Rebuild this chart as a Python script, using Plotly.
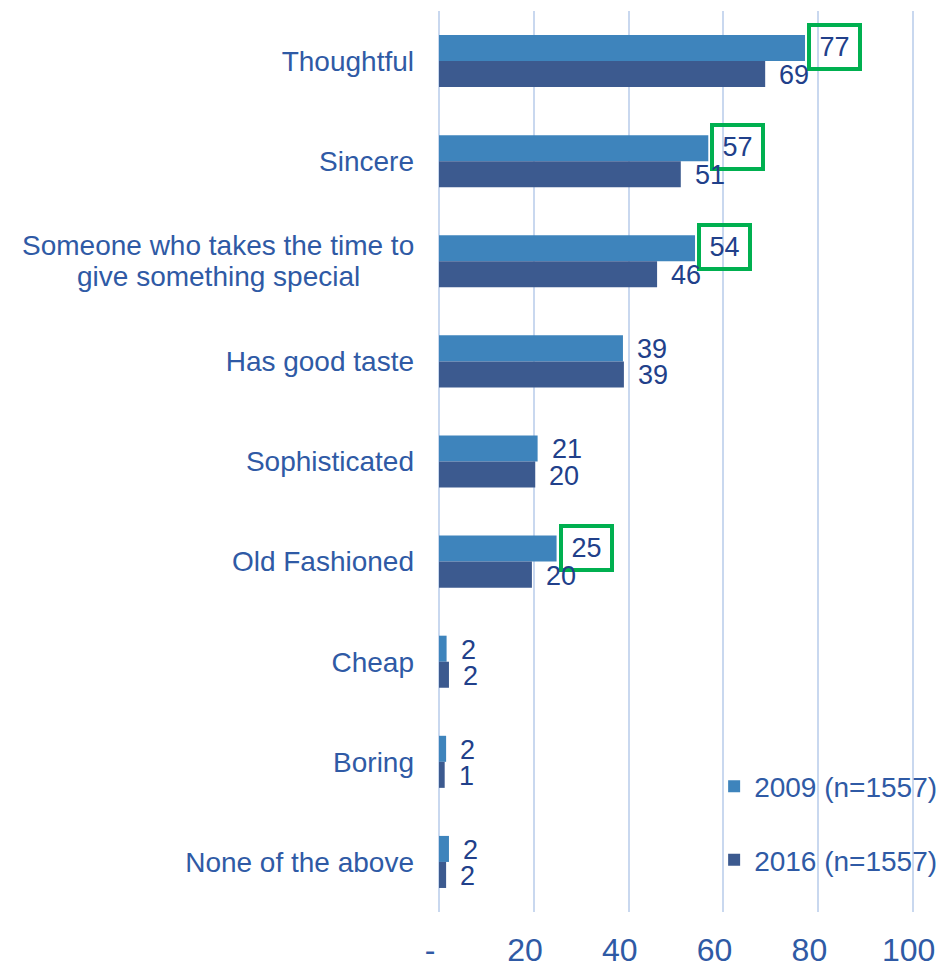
import plotly.graph_objects as go

categories = [
    "Thoughtful",
    "Sincere",
    "Someone who takes the time to<br>give something special",
    "Has good taste",
    "Sophisticated",
    "Old Fashioned",
    "Cheap",
    "Boring",
    "None of the above",
]
values_2009 = [77.2, 56.8, 54.0, 38.8, 20.8, 24.8, 1.6, 1.5, 2.1]
values_2016 = [68.8, 51.0, 46.0, 39.0, 20.3, 19.6, 2.1, 1.2, 1.5]
highlight_2009 = [True, True, True, False, False, True, False, False, False]
series_names = ["2009 (n=1557)", "2016 (n=1557)"]
x_tickvals = [0, 20, 40, 60, 80, 100]
x_ticktext = ["-", "20", "40", "60", "80", "100"]

C2009 = "#3E84BC"
C2016 = "#3C5A8F"
TXT = "#2F5AA5"
LBL = "#21408A"
GREEN = "#00B050"
GRID = "#C9D8EF"
FONT = "Liberation Sans, Arial, sans-serif"
BARGAP = 0.48
half = (1 - BARGAP) / 4
XMAX = 100.4

fig = go.Figure()
for name, vals, col, grp in [(series_names[0], values_2009, C2009, "a"),
                              (series_names[1], values_2016, C2016, "b")]:
    fig.add_trace(go.Bar(
        y=categories, x=vals, orientation="h", name=name,
        marker=dict(color=col, line=dict(width=0)),
        legendgroup=grp, hoverinfo="skip",
    ))

annotations = []
for i, cat in enumerate(categories):
    for vals, off, hl in [(values_2009, -half, highlight_2009[i]), (values_2016, half, False)]:
        v = vals[i]
        txt = f"{v:.0f}"
        if hl:
            annotations.append(dict(
                x=v, y=i + off, xref="x", yref="y", text=txt, showarrow=False,
                xanchor="left", yanchor="middle", xshift=2, yshift=1,
                font=dict(size=27, color=LBL, family=FONT),
                bordercolor=GREEN, borderwidth=4, borderpad=2,
                width=43, height=36, align="center",
            ))
        else:
            annotations.append(dict(
                x=v, y=i + off, xref="x", yref="y", text=txt, showarrow=False,
                xanchor="left", yanchor="middle", xshift=12, yshift=-1,
                font=dict(size=27, color=LBL, family=FONT),
            ))
    if "<br>" in cat:
        lines = cat.split("<br>")
        n = len(lines)
        for k, ln in enumerate(lines):
            annotations.append(dict(
                x=0, y=i, xref="paper", yref="y", text=ln, showarrow=False,
                xanchor="center", yanchor="middle",
                xshift=-(439 - 218),
                yshift=(n - 1) / 2 * 31 - k * 31,
                font=dict(size=28, color=TXT, family=FONT),
            ))

ticktext_y = ["" if "<br>" in c else c for c in categories]
ticktext_x = [t + ("\u00a0" if len(t) > 2 else "\u00a0\u00a0") for t in x_ticktext]

fig.update_layout(
    width=948, height=969,
    margin=dict(l=439, r=33, t=11, b=57, autoexpand=False),
    paper_bgcolor="white", plot_bgcolor="white",
    barmode="group", bargap=BARGAP, bargroupgap=0,
    font=dict(family=FONT, color=TXT),
    showlegend=True,
    legend=dict(
        x=0.578, xanchor="left", y=0.167, yanchor="top",
        font=dict(size=28, color=TXT, family=FONT),
        traceorder="grouped", tracegroupgap=34,
        bgcolor="rgba(0,0,0,0)", itemclick=False,
    ),
    annotations=annotations,
)
fig.update_xaxes(
    range=[0, XMAX], tickmode="array", tickvals=x_tickvals,
    ticktext=ticktext_x, ticklabeloverflow="allow",
    showgrid=True, gridcolor=GRID, gridwidth=2,
    zeroline=True, zerolinecolor=GRID, zerolinewidth=2,
    showline=False, ticks="", ticklabelstandoff=16,
    tickfont=dict(size=32, color=TXT, family=FONT),
)
fig.update_yaxes(
    type="category", categoryorder="array", categoryarray=categories,
    range=[len(categories) - 0.5, -0.5],
    tickmode="array", tickvals=categories, ticktext=ticktext_y,
    showgrid=False, zeroline=False, showline=False, ticks="",
    ticklabelstandoff=24,
    tickfont=dict(size=28, color=TXT, family=FONT),
)

fig.write_html(
    "out.html",
    config={"displayModeBar": False},
    post_script="document.body.style.margin='0';document.body.style.overflow='hidden';",
)
